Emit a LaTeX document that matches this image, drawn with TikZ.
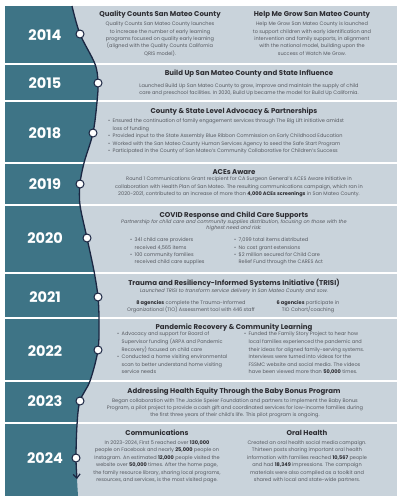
\documentclass[tikz,border=0pt]{standalone}
\usepackage{fontspec}
\setmainfont{Poppins}
\usetikzlibrary{arrows.meta}

\definecolor{bandteal}{RGB}{62,116,134}
\definecolor{panel}{RGB}{201,211,219}
\definecolor{navy}{RGB}{27,38,66}
\definecolor{titleink}{RGB}{45,45,50}
\definecolor{bodyink}{RGB}{85,88,95}

\newcommand\tlbul{\makebox[4.5pt][l]{\textbullet}}
\newcommand\tlind{\hspace*{4.5pt}}
\newcommand\hl[1]{\textbf{\color{titleink}#1}}
% fixed first-line height, so a block's top sits 4.5pt above its first baseline
\newcommand\fl{\rule{0pt}{4.5pt}}

\tikzset{
  yearlbl/.style={font=\fontsize{14.5}{15}\selectfont\bfseries, text=white, inner sep=0pt},
  ttl/.style={font=\fontsize{7}{8}\selectfont\bfseries, text=titleink, inner sep=0pt, anchor=base},
  bodytxt/.style={font=\fontsize{5}{7.35}\selectfont, text=bodyink, inner sep=0pt, align=center, anchor=north},
  subtxt/.style={bodytxt, font=\fontsize{5}{6.8}\selectfont\itshape},
  listtxt/.style={bodytxt, align=left, anchor=north west},
  yeardot/.style={circle, draw=navy, fill=white, line width=1pt, minimum size=8pt, inner sep=0pt},
  septxt/.style={white, line width=1.4pt},
  timeline/.style={navy, line width=1.3pt},
}

\begin{document}
\begin{tikzpicture}[x=1pt, y=-1pt]
\useasboundingbox (0,0) rectangle (397,496);

% points of the wavy timeline
\coordinate (p0) at (72,6);
\coordinate (p14) at (80,34);
\coordinate (pa) at (95,64);
\coordinate (p15) at (98,83);
\coordinate (pb) at (97,102);
\coordinate (p18) at (93,133);
\coordinate (pc) at (84,163);
\coordinate (p19) at (80,184);
\coordinate (pd) at (80,205);
\coordinate (p20) at (87,238);
\coordinate (pe) at (94,271);
\coordinate (p21) at (98,297);
\coordinate (pf) at (99,321);
\coordinate (p22) at (98,350);
\coordinate (pg) at (90,381);
\coordinate (p23) at (80,401);
\coordinate (ph) at (77,425);
\coordinate (p24) at (76,458);
\coordinate (pend) at (77,479);
\coordinate (pbot) at (78,496);

% background panel and teal band
\fill[panel] (5,6) rectangle (397,496);
\fill[bandteal] (5,6) -- plot[smooth, tension=0.55] coordinates {(p0) (p14) (pa) (p15) (pb) (p18) (pc) (p19) (pd) (p20) (pe) (p21) (pf) (p22) (pg) (p23) (ph) (p24) (pend) (pbot)} -- (5,496) -- cycle;

% section separators
\foreach \yy in {64,101,163,205,273,318,381,423}
  \draw[septxt] (5,\yy) -- (397,\yy);

% timeline with arrow
\draw[timeline, -{Straight Barb[length=4pt, width=7pt, line width=1.2pt]}] plot[smooth, tension=0.55] coordinates {(p0) (p14) (pa) (p15) (pb) (p18) (pc) (p19) (pd) (p20) (pe) (p21) (pf) (p22) (pg) (p23) (ph) (p24) (pend)};

% year markers
\node[yeardot] (d14) at (p14) {};
\node[yeardot] (d15) at (p15) {};
\node[yeardot] (d18) at (p18) {};
\node[yeardot] (d19) at (p19) {};
\node[yeardot] (d20) at (p20) {};
\node[yeardot] (d21) at (p21) {};
\node[yeardot] (d22) at (p22) {};
\node[yeardot] (d23) at (p23) {};
\node[yeardot] (d24) at (p24) {};

\node[yearlbl] (y14) at (45,35) {2014};
\node[yearlbl] (y15) at (45,83) {2015};
\node[yearlbl] (y18) at (45,133) {2018};
\node[yearlbl] (y19) at (45,184) {2019};
\node[yearlbl] (y20) at (45,238) {2020};
\node[yearlbl] (y21) at (45,297) {2021};
\node[yearlbl] (y22) at (45,351) {2022};
\node[yearlbl] (y23) at (45,401) {2023};
\node[yearlbl] (y24) at (45,458) {2024};

% 2014
\node[ttl] (t14a) at (160,16.3) {Quality Counts San Mateo County};
\node[bodytxt] (b14a) at (160,21) {\fl Quality Counts San Mateo County launches\\
to increase the number of early learning\\
programs focused on quality early learning\\
(aligned with the Quality Counts California\\
QRIS model).};
\node[ttl] (t14b) at (312,16.3) {Help Me Grow San Mateo County};
\node[bodytxt] (b14b) at (312,21) {\fl Help Me Grow San Mateo County is launched\\
to support children with early identification and\\
intervention and family supports, in alignment\\
with the national model, building upon the\\
success of Watch Me Grow.};

% 2015
\node[ttl] (t15) at (249,75.3) {Build Up San Mateo County and State Influence};
\node[bodytxt, font=\fontsize{5}{7}\selectfont] (b15) at (249,82.9) {\fl Launched Build Up San Mateo County to grow, improve and maintain the supply of child\\
care and preschool facilities. In 2020, Build Up became the model for Build Up California.};

% 2018
\node[ttl] (t18) at (234,113.3) {County \& State Level Advocacy \& Partnerships};
\node[listtxt, font=\fontsize{5}{7.5}\selectfont] (b18) at (108,118.1) {\fl\tlbul Ensured the continuation of family engagement services through The Big Lift initiative amidst\\
\tlind loss of funding\\
\tlbul Provided input to the State Assembly Blue Ribbon Commission on Early Childhood Education\\
\tlbul Worked with the San Mateo County Human Services Agency to seed the Safe Start Program\\
\tlbul Participated in the County of San Mateo's Community Collaborative for Children's Success};

% 2019
\node[ttl] (t19) at (234,174.5) {ACEs Aware};
\node[bodytxt, font=\fontsize{5}{7.2}\selectfont] (b19) at (239,176.1) {\fl Round 1 Communications Grant recipient for CA Surgeon General's ACES Aware Initiative in\\
collaboration with Health Plan of San Mateo. The resulting communications campaign, which ran in\\
2020-2021, contributed to an increase of more than \hl{4,000 ACEs screenings} in San Mateo County.};

% 2020
\node[ttl] (t20) at (234,217.3) {COVID Response and Child Care Supports};
\node[subtxt] (s20) at (234,218.3) {\fl Partnership for child care and community supplies distribution, focusing on those with the\\
highest need and risk:};
\node[listtxt] (b20a) at (130,237.1) {\fl\tlbul 341 child care providers\\
\tlind received 4,565 items\\
\tlbul 100 community families\\
\tlind received child care supplies};
\node[listtxt] (b20b) at (234,237.1) {\fl\tlbul 7,099 total items distributed\\
\tlbul No cost grant extensions\\
\tlbul \$2 million secured for Child Care\\
\tlind Relief Fund through the CARES Act};

% 2021
\node[ttl] (t21) at (234,285.3) {Trauma and Resiliency-Informed Systems Initiative (TRISI)};
\node[subtxt] (s21) at (234,287.9) {\fl Launched TRISI to transform service delivery in San Mateo County and sow.};
\node[bodytxt, font=\fontsize{5}{6.8}\selectfont] (b21a) at (191,299.8) {\fl\hl{8 agencies} complete the Trauma-Informed\\
Organizational (TIO) Assessment tool with 446 staff};
\node[bodytxt, font=\fontsize{5}{6.8}\selectfont] (b21b) at (308,299.8) {\fl\hl{6 agencies} participate in\\
TIO Cohort/coaching};

% 2022
\node[ttl] (t22) at (234,329.3) {Pandemic Recovery \& Community Learning};
\node[listtxt, font=\fontsize{5}{7.6}\selectfont] (b22a) at (117,331.1) {\fl\tlbul Advocacy and support for Board of\\
\tlind Supervisor funding (ARPA and Pandemic\\
\tlind Recovery) focused on child care\\
\tlbul Conducted a home visiting environmental\\
\tlind scan to better understand home visiting\\
\tlind service needs};
\node[listtxt, font=\fontsize{5}{7.6}\selectfont] (b22b) at (244,331.1) {\fl\tlbul Funded the Family Story Project to hear how\\
\tlind local families experienced the pandemic and\\
\tlind their ideas for aligned family-serving systems.\\
\tlind Interviews were turned into videos for the\\
\tlind FSSMC website and social media. The videos\\
\tlind have been viewed more than \hl{50,000} times.};

% 2023
\node[ttl] (t23) at (234,393.3) {Addressing Health Equity Through the Baby Bonus Program};
\node[bodytxt, font=\fontsize{5}{7}\selectfont] (b23) at (235,397.9) {\fl Began collaboration with The Jackie Speier Foundation and partners to implement the Baby Bonus\\
Program, a pilot project to provide a cash gift and coordinated services for low-income families during\\
the first three years of their child's life. This pilot program is ongoing.};

% 2024
\node[ttl] (t24a) at (157,435.3) {Communications};
\node[bodytxt] (b24a) at (157,439.9) {\fl In 2023-2024, First 5 reached over \hl{130,000}\\
people on Facebook and nearly \hl{25,000} people on\\
Instagram. An estimated \hl{12,000} people visited the\\
website over \hl{50,000} times. After the home page,\\
the family resource library, sharing local programs,\\
resources, and services, is the most visited page.};
\node[ttl] (t24b) at (307,435.3) {Oral Health};
\node[bodytxt] (b24b) at (307,439.9) {\fl Created an oral health social media campaign.\\
Thirteen posts sharing important oral health\\
information with families reached \hl{10,567} people\\
and had \hl{18,349} impressions. The campaign\\
materials were also compiled as a toolkit and\\
shared with local and state-wide partners.};
\end{tikzpicture}
\end{document}
